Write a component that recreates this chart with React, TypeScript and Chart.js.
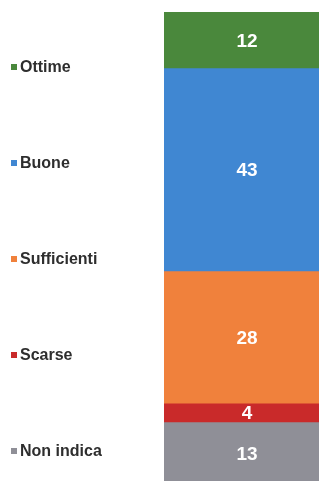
import React, { useEffect, useRef } from "react";
import { Chart, registerables } from "chart.js";

Chart.register(...registerables);

// Data (top to bottom as shown in the reference)
const categories = ["Ottime", "Buone", "Sufficienti", "Scarse", "Non indica"];
const values = [12, 43, 28, 4, 13];
const colors = ["#4a883c", "#4087d2", "#f0813c", "#c92a2a", "#8f8f97"];

const sideLegend = {
  id: "sideLegend",
  afterDraw(chart: any) {
    const ctx = chart.ctx;
    ctx.save();
    ctx.font = "bold 16px 'Liberation Sans', Arial, sans-serif";
    ctx.textBaseline = "middle";
    ctx.textAlign = "left";
    const startY = 67;
    const step = 96;
    categories.forEach((name, i) => {
      const y = startY + i * step;
      ctx.fillStyle = colors[i];
      ctx.fillRect(11, y - 3, 6, 6);
      ctx.fillStyle = "#2e2e2e";
      ctx.fillText(name, 20, y + 1);
    });
    ctx.restore();
  },
};

const valueLabels = {
  id: "valueLabels",
  afterDatasetsDraw(chart: any) {
    const ctx = chart.ctx;
    ctx.save();
    ctx.font = "bold 19px 'Liberation Sans', Arial, sans-serif";
    ctx.fillStyle = "#ffffff";
    ctx.textAlign = "center";
    ctx.textBaseline = "middle";
    chart.data.datasets.forEach((ds: any, di: number) => {
      const meta = chart.getDatasetMeta(di);
      meta.data.forEach((el: any, i: number) => {
        const v = ds.data[i];
        const cy = (el.y + el.base) / 2;
        ctx.fillText(String(v), el.x, cy + 1);
      });
    });
    ctx.restore();
  },
};

export default function App() {
  const ref = useRef<HTMLCanvasElement>(null);
  useEffect(() => {
    document.documentElement.style.overflow = "hidden";
    document.body.style.margin = "0";
    document.body.style.overflow = "hidden";
    const order = [...categories.keys()].reverse();
    const chart = new Chart(ref.current!, {
      type: "bar",
      data: {
        labels: [""],
        datasets: order.map((i) => ({
          label: categories[i],
          data: [values[i]],
          backgroundColor: colors[i],
          borderWidth: 0,
          barPercentage: 1,
          categoryPercentage: 1,
        })),
      },
      options: {
        responsive: false,
        animation: false,
        layout: { padding: { left: 164, right: 1, top: 12, bottom: 2 } },
        plugins: { legend: { display: false }, tooltip: { enabled: false } },
        scales: {
          x: { stacked: true, display: false },
          y: { stacked: true, display: false, min: 0, max: 100 },
        },
      },
      plugins: [sideLegend, valueLabels],
    });
    return () => chart.destroy();
  }, []);
  return (
    <div style={{ position: "fixed", left: 0, top: 0, width: 319, height: 481, overflow: "hidden", background: "#fff" }}>
      <canvas ref={ref} width={331} height={486} style={{ display: "block", width: 331, height: 486 }} />
    </div>
  );
}
